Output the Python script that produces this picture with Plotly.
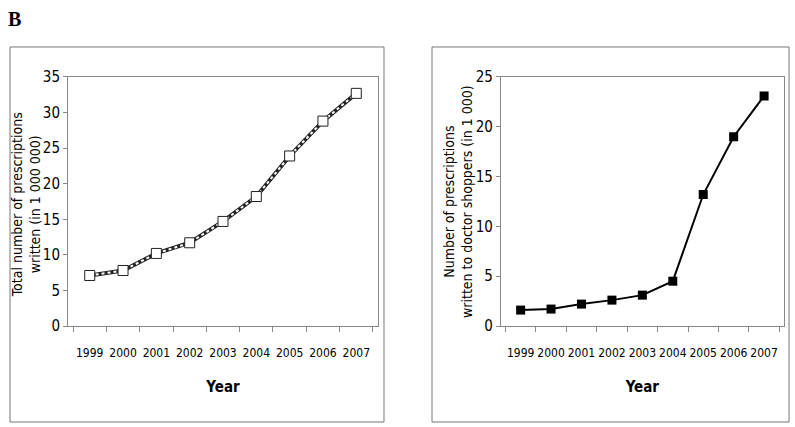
import plotly.graph_objects as go

years = ["1999", "2000", "2001", "2002", "2003", "2004", "2005", "2006", "2007"]
total_rx = [7.1, 7.8, 10.2, 11.7, 14.7, 18.2, 23.9, 28.8, 32.7]
shopper_rx = [1.6, 1.7, 2.2, 2.6, 3.1, 4.5, 13.2, 19.0, 23.1]

narrow = "DejaVu Sans Condensed, Liberation Sans Narrow, Arial Narrow, sans-serif"

fig = go.Figure()

# left panel: dotted grey line, white square markers
fig.add_trace(go.Scatter(x=years, y=total_rx, mode="lines", xaxis="x", yaxis="y",
                         line=dict(color="#222", width=4), showlegend=False, hoverinfo="skip"))
fig.add_trace(go.Scatter(x=years, y=total_rx, mode="lines+markers", xaxis="x", yaxis="y",
                         line=dict(color="white", width=2, dash="dot"),
                         marker=dict(symbol="square", size=10, color="white",
                                     line=dict(color="#222", width=1)),
                         showlegend=False))

# right panel: solid black line, black square markers
fig.add_trace(go.Scatter(x=years, y=shopper_rx, mode="lines+markers", xaxis="x2", yaxis="y2",
                         line=dict(color="black", width=2),
                         marker=dict(symbol="square", size=9, color="black"),
                         showlegend=False))

xcommon = dict(type="category", showgrid=False, showline=True, linecolor="#888",
               mirror=True, ticks="outside", tickson="boundaries", ticklen=5, tickangle=0,
               tickcolor="#888", tickfont=dict(family=narrow, size=12, color="black"),
               ticklabelstandoff=16, automargin=False,
               title=dict(text="<b>Year</b>", font=dict(family=narrow, size=15, color="black"),
                          standoff=22))
ycommon = dict(showgrid=False, showline=True, linecolor="#888", mirror=True,
               ticks="outside", ticklen=4, tickcolor="#888", zeroline=False, automargin=False,
               tickfont=dict(family=narrow, size=15, color="black"))

title_font = dict(family=narrow, size=14, color="black")

fig.update_layout(
    width=795, height=427,
    margin=dict(l=0, r=0, t=0, b=0),
    paper_bgcolor="white", plot_bgcolor="white",
    xaxis=dict(domain=[0.0855, 0.4755], anchor="y", **xcommon),
    yaxis=dict(domain=[0.2365, 0.8197], anchor="x", range=[0, 35], dtick=5, **ycommon),
    xaxis2=dict(domain=[0.630, 0.986], anchor="y2", **xcommon),
    yaxis2=dict(domain=[0.2365, 0.8197], anchor="x2", range=[0, 25], dtick=5, **ycommon),
    shapes=[
        dict(type="rect", xref="paper", yref="paper", x0=0.0126, x1=0.483, y0=0.0117, y1=0.890,
             line=dict(color="#777", width=1)),
        dict(type="rect", xref="paper", yref="paper", x0=0.5434, x1=0.9925, y0=0.0117, y1=0.890,
             line=dict(color="#777", width=1)),
    ],
    annotations=[
        dict(text="<b>B</b>", xref="paper", yref="paper", x=0.008, y=0.985,
             xanchor="left", yanchor="top", showarrow=False,
             font=dict(family="Liberation Serif, Times New Roman, serif", size=20, color="black")),
        dict(text="Total number of prescriptions<br>written (in 1 000 000)",
             xref="paper", yref="paper", x=0.033, y=0.52, textangle=-90,
             xanchor="center", yanchor="middle", showarrow=False, font=title_font),
        dict(text="Number of prescriptions<br>written to doctor shoppers (in 1 000)",
             xref="paper", yref="paper", x=0.576, y=0.529, textangle=-90,
             xanchor="center", yanchor="middle", showarrow=False, font=title_font),
    ],
)

fig.write_html("out.html", post_script="document.body.style.margin='0';",
               config={"displayModeBar": False})
